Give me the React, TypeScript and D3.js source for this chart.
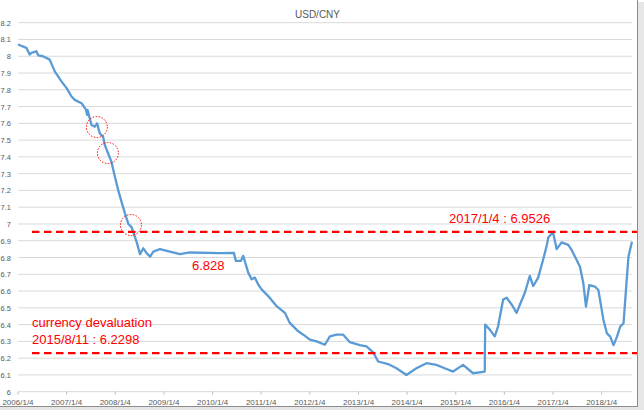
import * as d3 from 'd3'
import React from 'react'

const dates = [
  '2006-01-04', '2006-03-08', '2006-04-01', '2006-04-15', '2006-05-22', '2006-06-05', '2006-07-10', '2006-08-30', '2006-10-07', '2006-11-26',
  '2007-01-04', '2007-02-10', '2007-03-06', '2007-04-26', '2007-05-30', '2007-06-07', '2007-06-10', '2007-07-10',
  '2007-08-04', '2007-08-21', '2007-09-10', '2007-10-05', '2007-10-18', '2007-11-12', '2007-12-07',
  '2008-01-02', '2008-01-27', '2008-02-21', '2008-03-18', '2008-04-12', '2008-05-07', '2008-05-19', '2008-06-14',
  '2008-07-08', '2008-08-02', '2008-08-28', '2008-09-22', '2008-10-16', '2008-12-05',
  '2009-01-25', '2009-05-04', '2009-07-18', '2010-03-01', '2010-06-13', '2010-06-28', '2010-08-05', '2010-08-22',
  '2010-09-29', '2010-10-24', '2010-11-18', '2010-12-12',
  '2011-01-07', '2011-02-26', '2011-04-30', '2011-07-01', '2011-08-07', '2011-10-09', '2011-11-16',
  '2012-01-05', '2012-02-24', '2012-04-26', '2012-06-03', '2012-07-23', '2012-09-11', '2012-10-31',
  '2013-01-14', '2013-03-05', '2013-04-24', '2013-05-31', '2013-08-14', '2013-10-16', '2013-12-30',
  '2014-03-15', '2014-05-29', '2014-08-12', '2014-10-13', '2014-12-15',
  '2015-02-28', '2015-05-14', '2015-08-10', '2015-08-13', '2015-09-17', '2015-10-24', '2015-11-18', '2015-12-26',
  '2016-01-21', '2016-02-28', '2016-04-05', '2016-04-30', '2016-06-06', '2016-07-13', '2016-08-08', '2016-09-14',
  '2016-10-22', '2016-11-17', '2016-11-29',
  '2017-01-03', '2017-01-31', '2017-03-09', '2017-04-28', '2017-05-23', '2017-06-30', '2017-07-25', '2017-08-19',
  '2017-09-08', '2017-10-03', '2017-11-15', '2017-12-10',
  '2018-01-17', '2018-02-12', '2018-03-09', '2018-04-03', '2018-04-29', '2018-05-23', '2018-06-17', '2018-07-07',
  '2018-07-24', '2018-08-19',
]

const rates = [
  8.07, 8.05, 8.01, 8.02, 8.03, 8.005, 8.0, 7.98, 7.91, 7.85,
  7.81, 7.76, 7.74, 7.72, 7.68, 7.65, 7.68, 7.59,
  7.58, 7.6, 7.54, 7.52, 7.47, 7.42, 7.37,
  7.28, 7.2, 7.13, 7.06, 7.0, 6.98, 6.95, 6.89,
  6.82, 6.855, 6.825, 6.805, 6.835, 6.85,
  6.84, 6.82, 6.83, 6.826, 6.828, 6.78, 6.78, 6.81,
  6.71, 6.67, 6.68, 6.64,
  6.61, 6.57, 6.51, 6.47, 6.41, 6.36, 6.34,
  6.31, 6.3, 6.28, 6.33, 6.34, 6.34, 6.295,
  6.278, 6.27, 6.235, 6.18, 6.165, 6.14, 6.1,
  6.14, 6.17, 6.16, 6.14, 6.12,
  6.16, 6.11, 6.12, 6.4, 6.37, 6.33, 6.39, 6.55,
  6.56, 6.52, 6.47, 6.52, 6.59, 6.69, 6.63, 6.68,
  6.79, 6.87, 6.92,
  6.9526, 6.85, 6.89, 6.875, 6.845, 6.785, 6.745, 6.646,
  6.507, 6.636, 6.626, 6.606,
  6.428, 6.348, 6.328, 6.278, 6.328, 6.388, 6.408, 6.626,
  6.805, 6.894,
]

const yearTicks = ['2006/1/4', '2007/1/4', '2008/1/4', '2009/1/4', '2010/1/4', '2011/1/4', '2012/1/4',
  '2013/1/4', '2014/1/4', '2015/1/4', '2016/1/4', '2017/1/4', '2018/1/4']
const yTicks = d3.range(60, 83).map(v => v / 10)

const peakValue = 6.9526
const devalValue = 6.2298
const circleDates = ['2007-08-19', '2007-11-10', '2008-05-01']
const circleValues = [7.578, 7.423, 6.994]

const parse = d3.timeParse('%Y-%m-%d')
const parseTick = d3.timeParse('%Y/%m/%d')

export default function App() {
  const x = d3.scaleTime()
    .domain([parse('2006-01-04'), parse('2018-01-04')])
    .range([18, 601.7])
  const y = d3.scaleLinear().domain([6, 8.2]).range([391.7, 22.7])

  const data = dates.map((d, i) => ({ date: parse(d), value: rates[i] }))
  const line = d3.line<any>().x(d => x(d.date)).y(d => y(d.value))

  const red = '#FF0000'
  const font = '"Liberation Sans", Arial, sans-serif'

  return (
    <svg width={644} height={410} style={{ position: 'absolute', left: 0, top: 0, background: '#fff' }}
      fontFamily={font}>
      <text x={317.5} y={18} textAnchor="middle" fontSize={10} fill="#595959">USD/CNY</text>
      {yTicks.map(t => (
        <g key={t}>
          <line x1={18} x2={632} y1={y(t)} y2={y(t)} stroke="#D9D9D9" strokeWidth={1} />
          <text x={11} y={y(t) + 3} textAnchor="end" fontSize={7.5} fill="#595959">{d3.format('~g')(t)}</text>
        </g>
      ))}
      {yearTicks.map(t => {
        const xx = x(parseTick(t))
        return (
          <g key={t}>
            <line x1={xx} x2={xx} y1={y(6)} y2={y(6) + 3} stroke="#BFBFBF" />
            <text x={xx} y={405} textAnchor="middle" fontSize={8} fill="#595959">{t}</text>
          </g>
        )
      })}
      <path d={line(data)} fill="none" stroke="#5B9BD5" strokeWidth={2.3} strokeLinejoin="round" />

      <line x1={32} x2={644} y1={y(peakValue)} y2={y(peakValue)} stroke={red} strokeWidth={2.2} strokeDasharray="7.5 4.5" />
      <line x1={32} x2={644} y1={y(devalValue)} y2={y(devalValue)} stroke={red} strokeWidth={2.2} strokeDasharray="7.5 4.5" />
      {circleDates.map((d, i) => (
        <circle key={d} cx={x(parse(d))} cy={y(circleValues[i])} r={10.5} fill="none" stroke={red}
          strokeWidth={1} strokeDasharray="1.5 1.5" />
      ))}

      <text x={449} y={222.5} fontSize={13} fill={red}>2017/1/4 : {peakValue}</text>
      <text x={192} y={269.5} fontSize={13} fill={red}>6.828</text>
      <text x={32} y={327} fontSize={13} fill={red}>currency devaluation</text>
      <text x={32} y={344} fontSize={13} fill={red}>2015/8/11 : {devalValue}</text>

      {/* screenshot frame with shadow */}
      <line x1={637.5} x2={637.5} y1={0} y2={407} stroke="#8C8C8C" />
      <line x1={0} x2={638} y1={406.5} y2={406.5} stroke="#8C8C8C" />
      <rect x={638} y={2} width={6} height={408} fill="#E6E6E6" />
      <rect x={0} y={407} width={644} height={3} fill="#E6E6E6" />
    </svg>
  )
}
